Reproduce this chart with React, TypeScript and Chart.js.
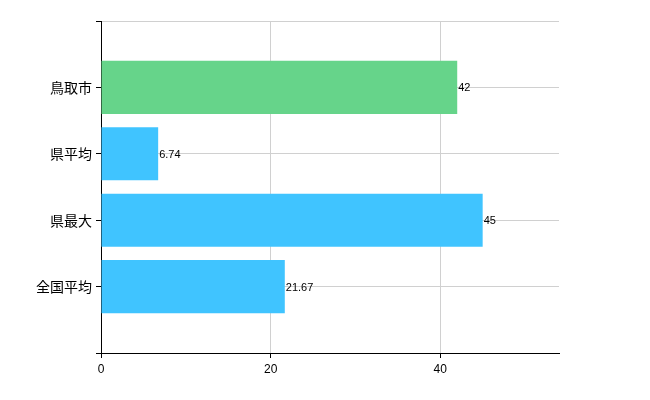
import React, { useEffect, useRef } from "react";
import { Chart, registerables } from "chart.js";

Chart.register(...registerables);

const categories = ["", "鳥取市", "県平均", "県最大", "全国平均", ""];
const values = [null, 42, 6.74, 45, 21.67, null];
const barColors = ["#40c4ff", "#66d48a", "#40c4ff", "#40c4ff", "#40c4ff", "#40c4ff"];
const xTicks = [0, 20, 40];
const xMax = 54;

const valueLabels = {
  id: "valueLabels",
  afterDatasetsDraw(chart: any) {
    const ctx = chart.ctx;
    const meta = chart.getDatasetMeta(0);
    ctx.save();
    ctx.font = "11px 'Liberation Sans', Arial, sans-serif";
    ctx.fillStyle = "#000";
    ctx.textAlign = "left";
    ctx.textBaseline = "middle";
    meta.data.forEach((el: any, i: number) => {
      const v = values[i];
      if (v === null || v === undefined) return;
      ctx.fillText(String(v), el.x + 1, el.y + 1);
    });
    ctx.restore();
  },
};

export default function App() {
  const ref = useRef<HTMLCanvasElement>(null);
  useEffect(() => {
    document.body.style.margin = "0";
    const chart = new Chart(ref.current!, {
      type: "bar",
      data: {
        labels: categories,
        datasets: [
          {
            data: values as any,
            backgroundColor: barColors,
            barPercentage: 0.8,
            categoryPercentage: 1,
          },
        ],
      },
      options: {
        indexAxis: "y",
        animation: false,
        responsive: false,
        layout: { padding: { top: 21, right: 91, left: 0, bottom: 0 } },
        plugins: { legend: { display: false }, tooltip: { enabled: false } },
        scales: {
          x: {
            type: "linear",
            min: 0,
            max: xMax,
            afterBuildTicks: (scale: any) => {
              scale.ticks = xTicks.map((v) => ({ value: v }));
            },
            afterFit: (scale: any) => {
              scale.height = 47;
            },
            border: { color: "#000", width: 1 },
            grid: { color: "#d0d0d0", tickColor: "#000", tickLength: 5 },
            ticks: {
              color: "#000",
              font: { family: "'Liberation Sans', Arial, sans-serif", size: 12 },
              padding: 4,
            },
          },
          y: {
            type: "category",
            offset: false,
            afterFit: (scale: any) => {
              scale.width = 101;
            },
            border: { color: "#000", width: 1 },
            grid: { offset: false, color: "#d0d0d0", tickColor: "#000", tickLength: 5 },
            ticks: {
              color: "#000",
              font: { family: "'Noto Sans CJK JP', sans-serif", size: 14 },
              padding: 4,
              autoSkip: false,
            },
          },
        },
      },
      plugins: [valueLabels],
    });
    return () => chart.destroy();
  }, []);
  return (
    <div style={{ position: "absolute", left: 0, top: 0, width: 650, height: 400 }}>
      <canvas ref={ref} width={650} height={400} />
    </div>
  );
}
